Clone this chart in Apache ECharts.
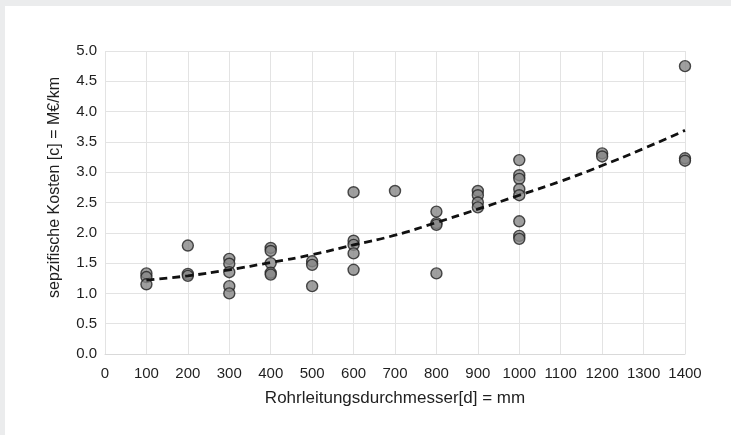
<!DOCTYPE html>
<html lang="de">
<head>
    <meta charset="utf-8">
    <title>Kosten Rohrleitung</title>
    <script src="https://cdn.jsdelivr.net/npm/echarts@6/dist/echarts.min.js"></script>
    <style>
        html, body { margin: 0; padding: 0; background: #ebeced; }
        #main {
            position: absolute; left: 5px; top: 6px;
            width: 726px; height: 429px; background: #fff;
        }
    </style>
</head>
<body>
<div id="main"></div>
<script type="text/javascript">
// Messpunkte: Durchmesser [mm] und spezifische Kosten [M€/km]
var pointDiameter = [
    100, 100, 100,
    200, 200, 200,
    300, 300, 300, 300, 300,
    400, 400, 400, 400, 400,
    500, 500, 500,
    600, 600, 600, 600, 600,
    700,
    800, 800, 800, 800,
    900, 900, 900, 900,
    1000, 1000, 1000, 1000, 1000, 1000, 1000, 1000,
    1200, 1200,
    1400, 1400, 1400
];
var pointCost = [
    1.33, 1.27, 1.15,
    1.79, 1.32, 1.29,
    1.57, 1.49, 1.35, 1.12, 1.00,
    1.75, 1.70, 1.50, 1.34, 1.31,
    1.53, 1.47, 1.12,
    2.67, 1.87, 1.80, 1.66, 1.39,
    2.69,
    2.35, 2.16, 2.13, 1.33,
    2.69, 2.62, 2.50, 2.42,
    3.20, 2.95, 2.89, 2.72, 2.62, 2.19, 1.95, 1.90,
    3.31, 3.26,
    4.75, 3.23, 3.19
];

// Trendlinie
var trendDiameter = [100, 200, 300, 400, 500, 600, 700, 800, 900, 1000, 1100, 1200, 1300, 1400];
var trendCost = [1.22, 1.29, 1.39, 1.51, 1.64, 1.80, 1.96, 2.17, 2.39, 2.62, 2.85, 3.11, 3.39, 3.69];

var font = '"Liberation Sans", Arial, sans-serif';
var textColor = '#1f1f1f';

var scatterData = pointDiameter.map(function (d, i) {
    return [d, pointCost[i]];
});
var trendData = trendDiameter.map(function (d, i) {
    return [d, trendCost[i]];
});

var myChart = echarts.init(document.getElementById('main'));
myChart.setOption({
    animation: false,
    backgroundColor: '#fff',
    grid: { left: 100, top: 45, right: 46, bottom: 81 },
    xAxis: {
        type: 'value',
        min: 0, max: 1400, interval: 100,
        name: 'Rohrleitungsdurchmesser[d] = mm',
        nameLocation: 'middle',
        nameGap: 36,
        nameTextStyle: { fontFamily: font, fontSize: 17, color: textColor },
        axisLine: { show: true, lineStyle: { color: '#d9d9d9' } },
        axisTick: { show: false },
        axisLabel: {
            fontFamily: font, fontSize: 15, color: textColor, margin: 12,
            formatter: function (v) { return String(v); }
        },
        splitLine: { show: true, lineStyle: { color: '#e3e3e3', width: 1 } }
    },
    yAxis: {
        type: 'value',
        min: 0, max: 5, interval: 0.5,
        name: 'sepzifische Kosten [c] = M€/km',
        nameLocation: 'middle',
        nameGap: 42,
        nameRotate: 90,
        nameTextStyle: { fontFamily: font, fontSize: 16, color: textColor, padding: [0, 0, 0, 30] },
        axisLine: { show: false },
        axisTick: { show: false },
        axisLabel: {
            fontFamily: font, fontSize: 15, color: textColor, margin: 8,
            formatter: function (v) { return v.toFixed(1); }
        },
        splitLine: { show: true, lineStyle: { color: '#e3e3e3', width: 1 } }
    },
    series: [{
        type: 'scatter',
        data: scatterData,
        symbol: 'circle',
        symbolSize: 11,
        itemStyle: { color: '#878787', borderColor: '#222', borderWidth: 1.4 },
        z: 2
    }, {
        type: 'line',
        data: trendData,
        smooth: true,
        showSymbol: false,
        lineStyle: { color: '#111', width: 2.8, type: [8, 5] },
        z: 3
    }]
});
</script>
</body>
</html>
